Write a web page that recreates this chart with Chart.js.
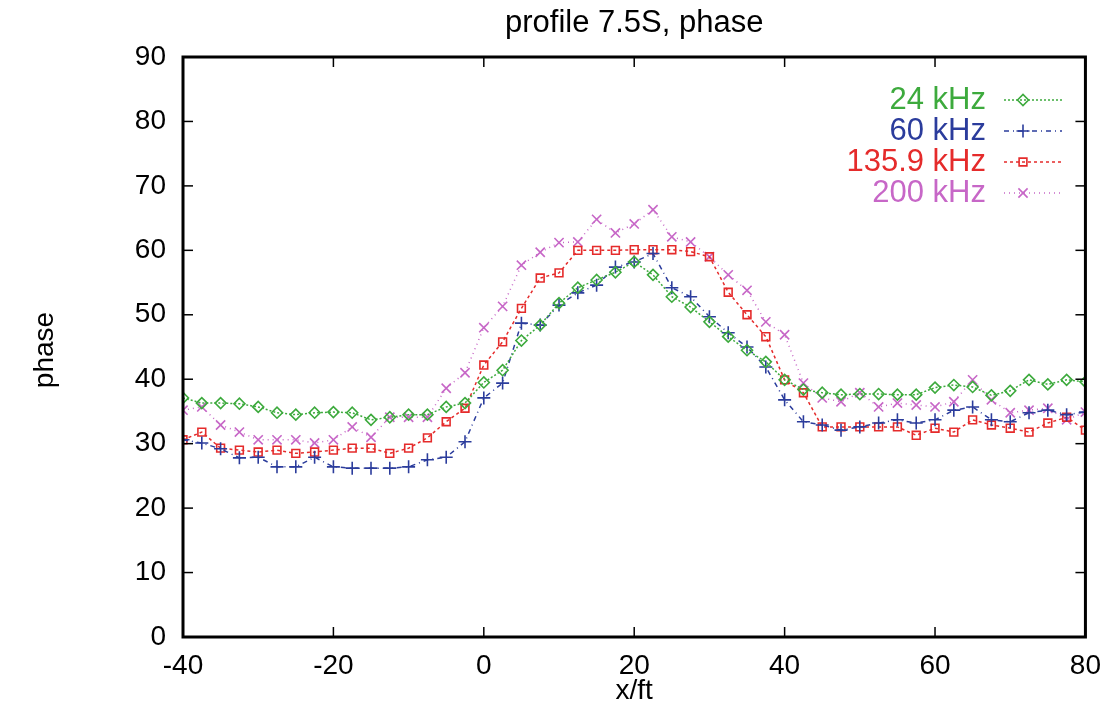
<!DOCTYPE html>
<html>
<head>
<meta charset="utf-8">
<script src="https://cdn.jsdelivr.net/npm/chart.js@4/dist/chart.umd.min.js"></script>
<style>
  html, body { margin: 0; padding: 0; background: #fff; }
  #wrap { width: 1113px; height: 716px; }
</style>
</head>
<body>
<div id="wrap"><canvas id="c" width="1113" height="716"></canvas></div>
<script>
// Profile positions along the line (ft)
const xPos = [-40, -37.5, -35, -32.5, -30, -27.5, -25, -22.5, -20, -17.5, -15, -12.5, -10, -7.5, -5, -2.5,
  0, 2.5, 5, 7.5, 10, 12.5, 15, 17.5, 20, 22.5, 25, 27.5, 30, 32.5, 35, 37.5,
  40, 42.5, 45, 47.5, 50, 52.5, 55, 57.5, 60, 62.5, 65, 67.5, 70, 72.5, 75, 77.5, 80];

// Phase readings per frequency
const phase24 = [37.1, 36.3, 36.3, 36.2, 35.7, 34.8, 34.5, 34.8, 34.9, 34.8, 33.7, 34.1, 34.5, 34.5, 35.7, 36.3,
  39.5, 41.4, 46.0, 48.4, 51.8, 54.2, 55.4, 56.6, 58.2, 56.2, 52.8, 51.2, 48.9, 46.6, 44.5, 42.7,
  39.9, 38.4, 37.9, 37.6, 37.7, 37.7, 37.6, 37.6, 38.7, 39.1, 38.8, 37.5, 38.2, 39.9, 39.2, 39.9, 39.6];
const phase60 = [30.6, 30.1, 29.2, 27.8, 27.9, 26.4, 26.4, 27.9, 26.4, 26.2, 26.2, 26.2, 26.4, 27.5, 27.9, 30.3,
  37.1, 39.4, 48.7, 48.4, 51.5, 53.4, 54.6, 57.4, 58.2, 59.5, 54.2, 52.8, 49.7, 47.2, 45.0, 41.9,
  36.8, 33.4, 32.9, 32.1, 32.6, 33.2, 33.7, 33.2, 33.7, 35.2, 35.7, 33.7, 33.4, 34.8, 35.2, 34.5, 34.9];
const phase1359 = [30.6, 31.8, 29.3, 29.0, 28.7, 29.0, 28.5, 28.7, 29.0, 29.3, 29.3, 28.5, 29.3, 30.9, 33.4, 35.5,
  42.2, 45.8, 51.0, 55.7, 56.5, 60.0, 60.0, 60.0, 60.1, 60.1, 60.1, 59.8, 59.0, 53.5, 50.0, 46.6,
  39.9, 37.9, 32.6, 32.6, 32.6, 32.6, 32.6, 31.3, 32.4, 31.8, 33.7, 32.9, 32.4, 31.8, 33.2, 34.1, 32.1];
const phase200 = [35.2, 35.7, 32.9, 31.8, 30.6, 30.6, 30.6, 30.1, 30.6, 32.6, 31.0, 34.1, 34.1, 34.1, 38.6, 41.0,
  48.0, 51.3, 57.7, 59.7, 61.2, 61.3, 64.8, 62.7, 64.1, 66.3, 62.1, 61.3, 59.0, 56.2, 53.8, 48.9,
  46.9, 39.4, 37.1, 36.5, 37.9, 35.7, 36.3, 36.0, 35.7, 36.5, 39.9, 36.8, 34.8, 35.2, 35.5, 33.7, 34.9];

const seriesNames = ['24 kHz', '60 kHz', '135.9 kHz', '200 kHz'];
const xTicks = [-40, -20, 0, 20, 40, 60, 80];
const yTicks = [0, 10, 20, 30, 40, 50, 60, 70, 80, 90];

const FONT = '"Liberation Sans", Arial, sans-serif';

const styles = [
  { color: '#3daa3d', dash: [2, 2], point: 'rectRot', radius: 5.5 },
  { color: '#2b3c9c', dash: [5, 4, 1, 4], point: 'cross', radius: 6.5 },
  { color: '#e52b2b', dash: [3, 3], point: 'rect', radius: 5.5 },
  { color: '#c767c7', dash: [1, 4], point: 'crossRot', radius: 6.5 }
];

const values = [phase24, phase60, phase1359, phase200];
const datasets = values.map((vals, i) => ({
  label: seriesNames[i],
  data: xPos.map((x, k) => ({ x: x, y: vals[k] })),
  borderColor: styles[i].color,
  backgroundColor: 'rgba(0,0,0,0)',
  borderWidth: 1.5,
  borderDash: styles[i].dash,
  pointStyle: styles[i].point,
  pointRadius: styles[i].radius,
  pointBorderWidth: 1.6,
  pointBorderColor: styles[i].color,
  pointBackgroundColor: 'rgba(0,0,0,0)',
  tension: 0
}));

// Frame, inward ticks, axis titles and the in-plot key
const decorations = {
  id: 'decorations',
  afterDraw(chart) {
    const { ctx, chartArea: a, scales: { x, y } } = chart;
    ctx.save();
    const seg = (x1, y1, x2, y2) => { ctx.beginPath(); ctx.moveTo(x1, y1); ctx.lineTo(x2, y2); ctx.stroke(); };
    ctx.strokeStyle = '#000';
    ctx.setLineDash([]);
    ctx.lineWidth = 1.5;
    yTicks.forEach(v => {
      const py = y.getPixelForValue(v);
      seg(a.left, py, a.left + 10, py);
      seg(a.right - 10, py, a.right, py);
    });
    xTicks.forEach(v => {
      const px = x.getPixelForValue(v);
      seg(px, a.bottom, px, a.bottom - 10);
      seg(px, a.top, px, a.top + 10);
    });
    ctx.lineWidth = 3;
    ctx.strokeRect(a.left, a.top, a.right - a.left, a.bottom - a.top);

    // Title and axis titles
    ctx.fillStyle = '#000';
    ctx.textAlign = 'center';
    ctx.textBaseline = 'middle';
    ctx.font = '31px ' + FONT;
    ctx.fillText('profile 7.5S, phase', (a.left + a.right) / 2, 23);
    ctx.font = '28px ' + FONT;
    ctx.fillText('x/ft', (a.left + a.right) / 2, 691);
    ctx.save();
    ctx.translate(45, 350);
    ctx.rotate(-Math.PI / 2);
    ctx.fillText('phase', 0, 0);
    ctx.restore();

    // Key
    const rowY = [100, 131, 162, 193];
    datasets.forEach((ds, i) => {
      const yy = rowY[i];
      ctx.font = '31px ' + FONT;
      ctx.textAlign = 'right';
      ctx.fillStyle = ds.borderColor;
      ctx.fillText(ds.label, 986, yy);
      ctx.strokeStyle = ds.borderColor;
      ctx.lineWidth = 1.5;
      ctx.setLineDash(ds.borderDash);
      seg(1004, yy, 1062, yy);
      ctx.setLineDash([]);
      ctx.lineWidth = 1.6;
      ctx.fillStyle = 'rgba(0,0,0,0)';
      Chart.helpers.drawPoint(ctx, { pointStyle: ds.pointStyle, radius: ds.pointRadius, rotation: 0, borderWidth: 1.6 }, 1023, yy);
    });
    ctx.restore();
  }
};

new Chart(document.getElementById('c'), {
  type: 'line',
  data: { datasets: datasets },
  options: {
    responsive: false,
    animation: false,
    layout: { padding: { top: 57, right: 18, left: 0, bottom: 0 } },
    plugins: { legend: { display: false }, title: { display: false }, tooltip: { enabled: false } },
    scales: {
      x: {
        type: 'linear',
        min: -40, max: 80,
        afterBuildTicks: s => { s.ticks = xTicks.map(v => ({ value: v })); },
        afterFit: s => { s.height = 79; },
        grid: { display: false, drawTicks: false },
        border: { display: false },
        ticks: { color: '#000', font: { family: FONT, size: 28 }, padding: 12, maxRotation: 0 }
      },
      y: {
        min: 0, max: 90,
        afterBuildTicks: s => { s.ticks = yTicks.map(v => ({ value: v })); },
        afterFit: s => { s.width = 183; },
        grid: { display: false, drawTicks: false },
        border: { display: false },
        ticks: { color: '#000', font: { family: FONT, size: 28 }, padding: 17 }
      }
    }
  },
  plugins: [decorations]
});
</script>
</body>
</html>
